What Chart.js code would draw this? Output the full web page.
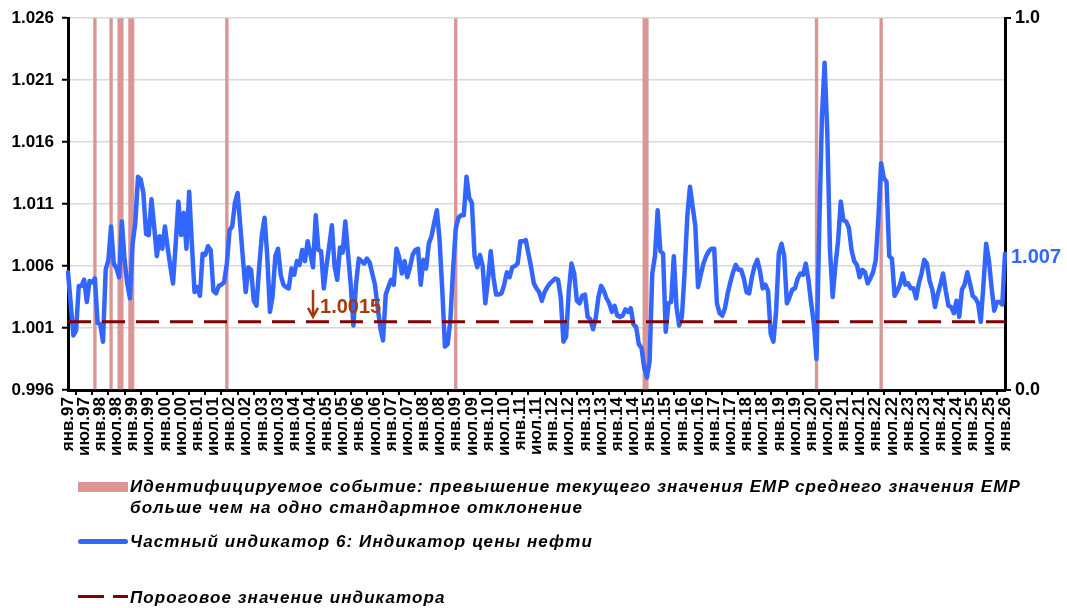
<!DOCTYPE html>
<html lang="ru">
<head>
<meta charset="utf-8">
<title>Частный индикатор 6: Индикатор цены нефти</title>
<script src="https://cdn.jsdelivr.net/npm/chart.js@4.4.0/dist/chart.umd.min.js"></script>
<style>
  html, body { margin: 0; padding: 0; background: #fff; }
  #wrap { position: relative; width: 1067px; height: 608px; overflow: hidden; }
  #box { position: absolute; left: 0; top: 0; width: 1067px; height: 608px; }
  .legend-text {
    position: absolute; left: 130px; color: #000;
    font: italic bold 17px 'Liberation Sans', Arial, sans-serif;
    letter-spacing: 1.1px; line-height: 21px; white-space: nowrap;
  }
  .swatch { position: absolute; }
</style>
</head>
<body>
<div id="wrap">
  <div id="box"><canvas id="oilChart"></canvas></div>

  <div class="swatch" style="left:78px; top:482px; width:50px; height:10px; background:#D99694;"></div>
  <div class="legend-text" style="top:476px;">Идентифицируемое событие: превышение текущего значения EMP среднего значения EMP<br>больше чем на одно стандартное отклонение</div>

  <div class="swatch" style="left:78px; top:539px; width:50px; height:5px; border-radius:3px; background:#3366FF;"></div>
  <div class="legend-text" style="top:531px;">Частный индикатор 6: Индикатор цены нефти</div>

  <div class="swatch" style="left:78px; top:595px; width:26px; height:3px; background:#800000;"></div>
  <div class="swatch" style="left:113px; top:595px; width:15px; height:3px; background:#800000;"></div>
  <div class="legend-text" style="top:587px;">Пороговое значение индикатора</div>
</div>

<script>
const MONTHS = ['янв', 'фев', 'мар', 'апр', 'май', 'июн', 'июл', 'авг', 'сен', 'окт', 'ноя', 'дек'];

// monthly categories, янв.97 ... янв.26
const categories = [];
for (let year = 1997; year <= 2026; year++) {
    for (let m = 0; m < 12; m++) {
        if (year === 2026 && m > 0) break;
        categories.push(MONTHS[m] + '.' + String(year).slice(2));
    }
}

// Частный индикатор 6, by five-year blocks
const oil1997_2001 = [
    1.0055, 1.0030, 1.0004, 1.0008, 1.0044, 1.0044, 1.0049, 1.0031, 1.0048, 1.0047, 1.0050, 1.0014,
    1.0013, 0.9999, 1.0057, 1.0065, 1.0092, 1.0062, 1.0058, 1.0051, 1.0096, 1.0065, 1.0046, 1.0034,
    1.0078, 1.0095, 1.0132, 1.0130, 1.0119, 1.0086, 1.0085, 1.0114, 1.0092, 1.0068, 1.0084, 1.0074,
    1.0092, 1.0075, 1.0060, 1.0046, 1.0078, 1.0112, 1.0085, 1.0103, 1.0074, 1.0120, 1.0078, 1.0039,
    1.0043, 1.0036, 1.0070, 1.0069, 1.0076, 1.0073, 1.0040, 1.0038, 1.0044, 1.0045, 1.0047, 1.0062
];
const oil2002_2006 = [
    1.0089, 1.0092, 1.0111, 1.0119, 1.0092, 1.0065, 1.0039, 1.0059, 1.0057, 1.0032, 1.0028, 1.0059,
    1.0085, 1.0099, 1.0068, 1.0023, 1.0036, 1.0068, 1.0074, 1.0053, 1.0045, 1.0043, 1.0042, 1.0058,
    1.0053, 1.0064, 1.0061, 1.0073, 1.0064, 1.0080, 1.0070, 1.0059, 1.0101, 1.0073, 1.0072, 1.0042,
    1.0060, 1.0076, 1.0093, 1.0060, 1.0049, 1.0075, 1.0071, 1.0096, 1.0070, 1.0045, 1.0012, 1.0046,
    1.0066, 1.0064, 1.0062, 1.0066, 1.0063, 1.0054, 1.0045, 1.0027, 1.0010, 1.0000, 1.0037, 1.0043
];
const oil2007_2011 = [
    1.0049, 1.0045, 1.0074, 1.0067, 1.0054, 1.0064, 1.0051, 1.0059, 1.0069, 1.0073, 1.0074, 1.0045,
    1.0065, 1.0058, 1.0078, 1.0084, 1.0095, 1.0105, 1.0081, 1.0041, 0.9995, 0.9997, 1.0016, 1.0057,
    1.0090, 1.0099, 1.0101, 1.0101, 1.0132, 1.0115, 1.0111, 1.0068, 1.0059, 1.0069, 1.0060, 1.0030,
    1.0049, 1.0072, 1.0051, 1.0037, 1.0037, 1.0038, 1.0045, 1.0055, 1.0051, 1.0059, 1.0060, 1.0062,
    1.0080, 1.0080, 1.0081, 1.0070, 1.0059, 1.0046, 1.0042, 1.0039, 1.0032, 1.0039, 1.0043, 1.0046
];
const oil2012_2016 = [
    1.0048, 1.0050, 1.0049, 1.0035, 0.9999, 1.0003, 1.0040, 1.0062, 1.0054, 1.0032, 1.0030, 1.0036,
    1.0037, 1.0019, 1.0017, 1.0009, 1.0018, 1.0035, 1.0044, 1.0040, 1.0034, 1.0030, 1.0023, 1.0028,
    1.0020, 1.0019, 1.0020, 1.0025, 1.0023, 1.0026, 1.0013, 1.0011, 0.9997, 0.9994, 0.9978, 0.9970,
    0.9983, 1.0054, 1.0068, 1.0105, 1.0072, 1.0070, 1.0007, 1.0030, 1.0031, 1.0068, 1.0027, 1.0012,
    1.0019, 1.0055, 1.0100, 1.0124, 1.0108, 1.0092, 1.0043, 1.0053, 1.0062, 1.0068, 1.0072, 1.0074
];
const oil2017_2021 = [
    1.0074, 1.0030, 1.0022, 1.0020, 1.0026, 1.0038, 1.0047, 1.0055, 1.0061, 1.0057, 1.0057, 1.0050,
    1.0039, 1.0038, 1.0051, 1.0060, 1.0065, 1.0056, 1.0042, 1.0045, 1.0040, 1.0005, 0.9999, 1.0024,
    1.0070, 1.0078, 1.0068, 1.0030, 1.0035, 1.0041, 1.0042, 1.0050, 1.0054, 1.0053, 1.0062, 1.0049,
    1.0030, 1.0014, 0.9985, 1.0090, 1.0180, 1.0224, 1.0168, 1.0073, 1.0035, 1.0060, 1.0080, 1.0112,
    1.0097, 1.0096, 1.0091, 1.0073, 1.0064, 1.0061, 1.0051, 1.0057, 1.0055, 1.0046, 1.0050, 1.0055
];
const oil2022_2026 = [
    1.0065, 1.0100, 1.0143, 1.0131, 1.0128, 1.0068, 1.0066, 1.0036, 1.0040, 1.0045, 1.0054, 1.0045,
    1.0046, 1.0042, 1.0042, 1.0034, 1.0046, 1.0054, 1.0065, 1.0062, 1.0048, 1.0041, 1.0027, 1.0037,
    1.0045, 1.0054, 1.0040, 1.0028, 1.0027, 1.0022, 1.0032, 1.0019, 1.0041, 1.0045, 1.0055, 1.0046,
    1.0036, 1.0034, 1.0030, 1.0015, 1.0045, 1.0078, 1.0065, 1.0043, 1.0024, 1.0031, 1.0031, 1.0029,
    1.0070
];
const oilIndicator = [...oil1997_2001, ...oil2002_2006, ...oil2007_2011, ...oil2012_2016, ...oil2017_2021, ...oil2022_2026];

// months flagged as identified events
const eventMonths = ['ноя.97', 'май.98', 'авг.98', 'сен.98', 'дек.98', 'янв.99', 'дек.01', 'янв.09', 'ноя.14', 'дек.14', 'мар.20', 'мар.22'];

const THRESHOLD = 1.0015;
const thresholdNoteAt = 'авг.04';

const leftTicks = { min: 0.996, max: 1.026, step: 0.005 };
const rightTicks = { min: 0, max: 1, step: 1 };

const FONT = "'Liberation Sans', Arial, sans-serif";

const valueLabels = {
    id: 'valueLabels',
    afterDatasetsDraw(chart) {
        const { ctx } = chart;
        const xs = chart.scales.x;
        const ys = chart.scales.y;
        ctx.save();

        // last value
        const lastIdx = oilIndicator.length - 1;
        const last = oilIndicator[lastIdx];
        ctx.font = 'bold 20px ' + FONT;
        ctx.fillStyle = '#3366FF';
        ctx.textBaseline = 'middle';
        ctx.fillText(last.toFixed(3), xs.getPixelForValue(lastIdx) + 6, ys.getPixelForValue(last) + 4);

        // threshold note
        const ax = xs.getPixelForValue(categories.indexOf(thresholdNoteAt));
        const ty = ys.getPixelForValue(THRESHOLD);
        ctx.strokeStyle = '#A33A0A';
        ctx.fillStyle = '#A33A0A';
        ctx.lineWidth = 2.5;
        ctx.beginPath();
        ctx.moveTo(ax, ty - 32);
        ctx.lineTo(ax, ty - 6);
        ctx.stroke();
        ctx.beginPath();
        ctx.moveTo(ax - 5, ty - 14);
        ctx.lineTo(ax, ty - 5);
        ctx.lineTo(ax + 5, ty - 14);
        ctx.stroke();
        ctx.font = 'bold 20px ' + FONT;
        ctx.textBaseline = 'alphabetic';
        ctx.fillText(THRESHOLD.toFixed(4), ax + 7, ty - 9);
        ctx.restore();
    }
};

const ctx = document.getElementById('oilChart').getContext('2d');
new Chart(ctx, {
    data: {
        labels: categories,
        datasets: [
            {
                type: 'line',
                label: 'Пороговое значение индикатора',
                data: categories.map(() => THRESHOLD),
                borderColor: '#800000',
                borderWidth: 3,
                borderDash: [23, 11],
                pointRadius: 0,
                yAxisID: 'y',
                order: 1
            },
            {
                type: 'line',
                label: 'Частный индикатор 6: Индикатор цены нефти',
                data: oilIndicator,
                borderColor: '#3366FF',
                borderWidth: 4.5,
                borderJoinStyle: 'round',
                borderCapStyle: 'round',
                pointRadius: 0,
                tension: 0,
                yAxisID: 'y',
                order: 2
            },
            {
                type: 'bar',
                label: 'Идентифицируемое событие',
                data: categories.map(c => (eventMonths.includes(c) ? 1 : null)),
                backgroundColor: '#D99694',
                barPercentage: 1,
                categoryPercentage: 1,
                yAxisID: 'y2',
                order: 3
            }
        ]
    },
    options: {
        responsive: true,
        maintainAspectRatio: false,
        animation: false,
        events: [],
        layout: { padding: { top: 18, bottom: 140, left: 0, right: 0 } },
        plugins: {
            legend: { display: false },
            tooltip: { enabled: false }
        },
        scales: {
            x: {
                type: 'category',
                offset: false,
                grid: { drawOnChartArea: false, drawTicks: true, tickLength: 5, color: '#000', lineWidth: 2 },
                border: { color: '#000', width: 3 },
                ticks: {
                    autoSkip: false,
                    maxRotation: 90,
                    minRotation: 90,
                    padding: 2,
                    color: '#000',
                    font: { family: FONT, size: 17, weight: 'bold' },
                    callback: function (value, index) {
                        return index % 6 === 0 ? this.getLabelForValue(value) : null;
                    }
                },
                afterFit: scale => { scale.height = 78; }
            },
            y: {
                position: 'left',
                min: leftTicks.min,
                max: leftTicks.max,
                grid: { color: '#D9D9D9', lineWidth: 1.5, tickLength: 6, tickColor: '#000', tickWidth: 2 },
                border: { color: '#000', width: 3 },
                ticks: {
                    stepSize: leftTicks.step,
                    padding: 8,
                    color: '#000',
                    font: { family: FONT, size: 17, weight: 'bold' },
                    callback: v => v.toFixed(3)
                },
                afterFit: scale => { scale.width = 68; }
            },
            y2: {
                position: 'right',
                min: rightTicks.min,
                max: rightTicks.max,
                grid: { drawOnChartArea: false, tickLength: 6, color: '#000', lineWidth: 2 },
                border: { color: '#000', width: 3 },
                ticks: {
                    stepSize: rightTicks.step,
                    padding: 4,
                    color: '#000',
                    font: { family: FONT, size: 18, weight: 'bold' },
                    callback: v => v.toFixed(1)
                },
                afterFit: scale => { scale.width = 62; }
            }
        }
    },
    plugins: [valueLabels]
});
</script>
</body>
</html>
